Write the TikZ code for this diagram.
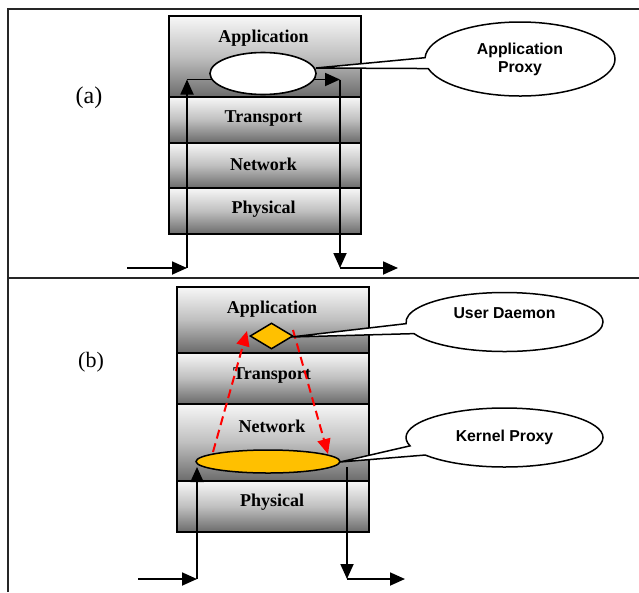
\documentclass[tikz,border=0pt]{standalone}
\usepackage{fontspec}
\setmainfont{Liberation Serif}
\newfontfamily\arialfont{Liberation Sans}
\usetikzlibrary{arrows.meta,shapes.geometric,shapes.callouts}
\definecolor{gold}{HTML}{FFC000}
\begin{document}
\begin{tikzpicture}[x=1pt,y=-1pt,
  layer/.style={rectangle, draw=black, line width=2pt, top color=black!3, bottom color=black!58, middle color=black!25, inner sep=0pt, minimum width=192pt, anchor=north west},
  lbl/.style={font=\fontsize{18}{20}\selectfont\bfseries, inner sep=0pt},
  caplbl/.style={inner sep=0pt},
  arr/.style={line width=1.8pt, -{Triangle[length=15pt,width=13pt]}},
  rarr/.style={draw=red, line width=2pt, dash pattern=on 9pt off 5pt, -{Triangle[length=15pt,width=13pt]}},
  bubble/.style={ellipse callout, draw=black, fill=white, line width=1.5pt, inner sep=0pt, align=center, font=\arialfont\bfseries\fontsize{15.8}{18}\selectfont},
  frame/.style={draw=black!85, line width=2pt}]
\useasboundingbox (0,0) rectangle (639,592);
% frame
\draw[frame] (7.5,592) -- (7.5,8.5) -- (639,8.5);
\draw[frame] (7.5,278) -- (639,278);

% ---------- (a) ----------
\node[layer, minimum height=81pt] (aApp) at (168,15) {};
\node[layer, minimum height=45.5pt] (aTra) at (168,96) {};
\node[layer, minimum height=45.5pt] (aNet) at (168,141.5) {};
\node[layer, minimum height=46pt] (aPhy) at (168,187) {};
\node[lbl] (aAppT) at (263.5,38.5) {Application};
\node[lbl] (aTraT) at (263.5,118.5) {Transport};
\node[lbl] (aNetT) at (263.5,164) {Network};
\node[lbl] (aPhyT) at (263.5,209.5) {Physical};
\node[caplbl, font=\fontsize{24}{28}\selectfont] (aLab) at (89,98) {(a)};

\coordinate (aIn) at (127,268);
\coordinate (aUp) at (187,268);
\coordinate (aTop) at (187,79.5);
\coordinate (aTopR) at (340,79.5);
\coordinate (aDown) at (340,268);
\coordinate (aOut) at (398,268);
\draw[arr] (aIn) -- (aUp);
\draw[arr] (aUp) -- (aTop);
\draw[arr] (aTop) -- (aTopR);
\draw[arr] (aTopR) -- (aDown);
\draw[arr] (aDown) -- (aOut);

\node[ellipse, draw=black, fill=white, line width=1.6pt, minimum width=106pt, minimum height=42pt, inner sep=0pt] (aProxy) at (263,73.5) {};
\coordinate (tipA) at (316,68);
\node[bubble, minimum width=190pt, minimum height=74pt, callout absolute pointer=(tipA), callout pointer arc=17] (cA) at (520,59) {Application\\Proxy};

% ---------- (b) ----------
\node[layer, minimum height=65.5pt] (bApp) at (176,286) {};
\node[layer, minimum height=51pt] (bTra) at (176,351.5) {};
\node[layer, minimum height=77.5pt] (bNet) at (176,402.5) {};
\node[layer, minimum height=51pt] (bPhy) at (176,480) {};
\node[lbl] (bAppT) at (272,309.5) {Application};
\node[lbl] (bTraT) at (272,375.5) {Transport};
\node[lbl] (bNetT) at (272,426) {Network};
\node[lbl] (bPhyT) at (272,502) {Physical};
\node[caplbl, font=\fontsize{22}{26}\selectfont] (bLab) at (91,362) {(b)};

\node[diamond, draw=black, fill=gold, line width=1.5pt, minimum width=43pt, minimum height=26pt, inner sep=0pt] (dDia) at (271.5,336) {};
\node[ellipse, draw=black, fill=gold, line width=1.5pt, minimum width=144pt, minimum height=23pt, inner sep=0pt] (kEll) at (268,461.5) {};

\coordinate (r1s) at (213,452);
\coordinate (r1e) at (247,331);
\coordinate (r2s) at (293,330);
\coordinate (r2e) at (328,454);
\draw[rarr] (r1s) -- (r1e);
\draw[rarr] (r2s) -- (r2e);

\coordinate (bIn) at (138,579);
\coordinate (bUp) at (197,579);
\coordinate (bTop) at (197,467);
\coordinate (bR) at (347,467);
\coordinate (bDown) at (347,579);
\coordinate (bOut) at (405,579);
\draw[arr] (bIn) -- (bUp);
\draw[arr] (bUp) -- (bTop);
\draw[arr] (bR) -- (bDown);
\draw[arr] (bDown) -- (bOut);

\coordinate (tipU) at (291,337);
\coordinate (tipK) at (340,462);
\node[bubble, minimum width=197pt, minimum height=59pt, callout absolute pointer=(tipU), callout pointer arc=20] (cU) at (504.5,322) {\raisebox{3.5pt}[0pt][0pt]{User Daemon}};
\node[bubble, minimum width=197pt, minimum height=59pt, callout absolute pointer=(tipK), callout pointer arc=20] (cK) at (504.5,437.5) {Kernel Proxy};
\end{tikzpicture}
\end{document}
